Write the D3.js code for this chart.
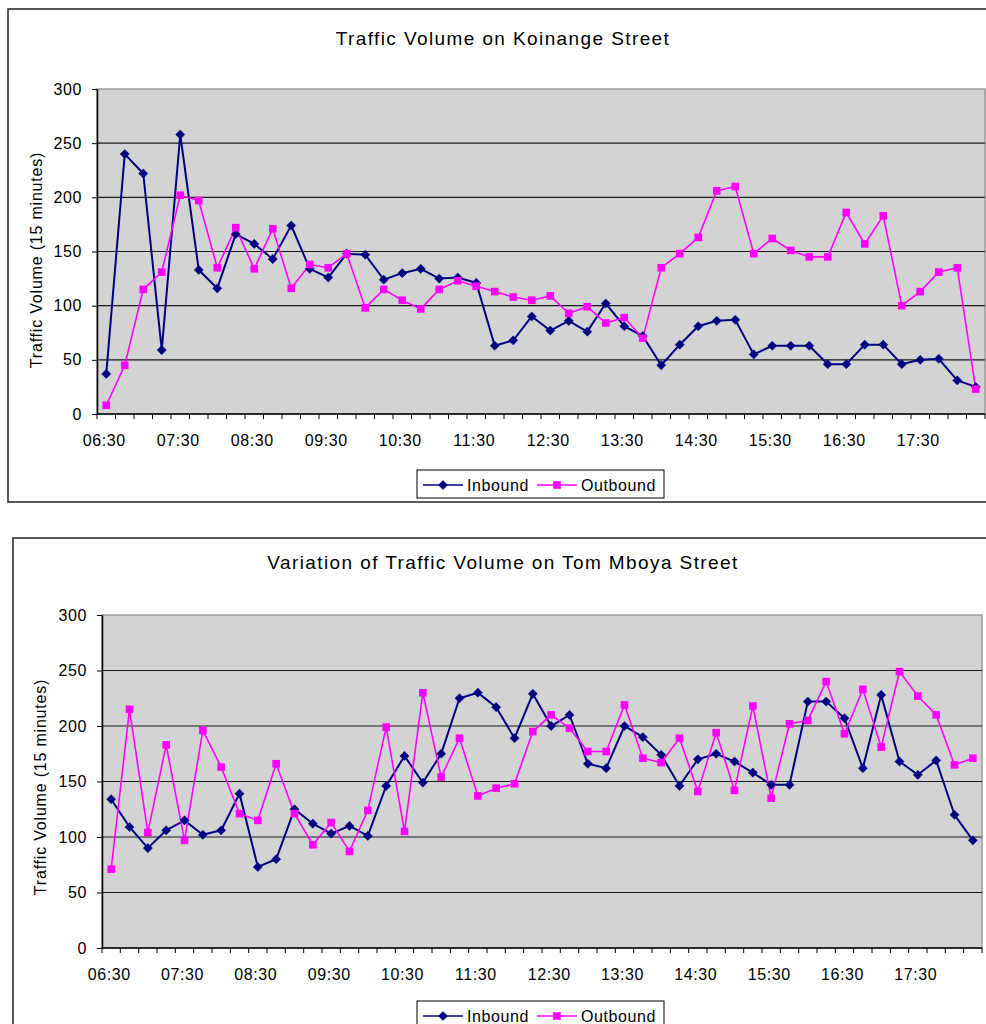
<!DOCTYPE html>
<html>
<head>
<meta charset="utf-8">
<script src="https://cdn.jsdelivr.net/npm/d3@7"></script>
<style>
  body { margin: 0; background: #fff; }
  svg text { font-family: "Liberation Sans", Arial, sans-serif; fill: #000; }
</style>
</head>
<body>
<div id="chart"></div>
<script>
(function(){

// 15-minute periods, 06:30 to 18:15
const times = ["06:30","06:45","07:00","07:15","07:30","07:45","08:00","08:15",
  "08:30","08:45","09:00","09:15","09:30","09:45","10:00","10:15",
  "10:30","10:45","11:00","11:15","11:30","11:45","12:00","12:15",
  "12:30","12:45","13:00","13:15","13:30","13:45","14:00","14:15",
  "14:30","14:45","15:00","15:15","15:30","15:45","16:00","16:15",
  "16:30","16:45","17:00","17:15","17:30","17:45","18:00","18:15"];

const xTickLabels = ["06:30","07:30","08:30","09:30","10:30","11:30",
  "12:30","13:30","14:30","15:30","16:30","17:30"];
const yTicks = [0, 50, 100, 150, 200, 250, 300];

const koinangeInbound = [37,240,222,59,258,133,116,166,157,143,174,134,126,148,147,124,
  130,134,125,126,121,63,68,90,77,86,76,102,81,72,45,64,
  81,86,87,55,63,63,63,46,46,64,64,46,50,51,31,25];
const koinangeOutbound = [8,45,115,131,202,197,135,172,134,171,116,138,135,148,98,115,
  105,97,115,123,118,113,108,105,109,93,99,84,89,70,135,148,
  163,206,210,148,162,151,145,145,186,157,183,100,113,131,135,23];

const mboyaInbound = [134,109,90,106,115,102,106,139,73,80,125,112,103,110,101,146,
  173,149,175,225,230,217,189,229,200,210,166,162,200,190,174,146,
  170,175,168,158,147,147,222,222,207,162,228,168,156,169,120,97];
const mboyaOutbound = [71,215,104,183,97,196,163,121,115,166,121,93,113,87,124,199,
  105,230,154,189,137,144,148,195,210,198,177,177,219,171,167,189,
  141,194,142,218,135,202,205,240,193,233,181,249,227,210,165,171];

const series = [
  {name: "Inbound", color: "#000080", marker: "diamond"},
  {name: "Outbound", color: "#ff00ff", marker: "square"}
];

const svg = d3.select("#chart")
  .append("svg")
  .attr("width", 986)
  .attr("height", 1024);

function drawMarker(g, type, color, cx, cy) {
  if (type === "diamond") {
    g.append("path")
      .attr("d", `M${cx},${cy-4.6}L${cx+4.6},${cy}L${cx},${cy+4.6}L${cx-4.6},${cy}Z`)
      .attr("fill", color)
      .attr("stroke", color)
      .attr("stroke-width", 0.5);
  } else {
    g.append("rect")
      .attr("x", cx - 3.8).attr("y", cy - 3.8)
      .attr("width", 7.6).attr("height", 7.6)
      .attr("fill", color);
  }
}

function drawPanel(p, title, values) {
  const g = svg.append("g");

  // outer chart border
  g.append("rect")
    .attr("x", p.box[0]).attr("y", p.box[1])
    .attr("width", p.box[2]).attr("height", p.box[3])
    .attr("fill", "#fff")
    .attr("stroke", "#222")
    .attr("stroke-width", 1.5);

  // title
  g.append("text")
    .attr("x", 503)
    .attr("y", p.titleY)
    .attr("text-anchor", "middle")
    .style("font-size", "19px")
    .style("letter-spacing", "1.4px")
    .text(title);

  const x = d3.scaleBand()
    .domain(times)
    .range([p.left, p.right])
    .paddingInner(0).paddingOuter(0);
  const cx = d => x(d) + x.bandwidth() / 2;

  const y = d3.scaleLinear()
    .domain([0, 300])
    .range([p.bottom, p.top]);

  // plot area
  g.append("rect")
    .attr("x", p.left).attr("y", p.top)
    .attr("width", p.right - p.left).attr("height", p.bottom - p.top)
    .attr("fill", "#d3d3d3")
    .attr("stroke", "#9a9a9a")
    .attr("stroke-width", 1.5);

  // gridlines
  g.append("g")
    .selectAll("line")
    .data(yTicks.filter(v => v > 0 && v < 300))
    .enter()
    .append("line")
    .attr("x1", p.left).attr("x2", p.right)
    .attr("y1", d => y(d)).attr("y2", d => y(d))
    .attr("stroke", "#1a1a1a")
    .attr("stroke-width", 1.2);

  // Y axis
  const yAxis = g.append("g")
    .attr("transform", `translate(${p.left},0)`)
    .call(d3.axisLeft(y).tickValues(yTicks).tickSize(5).tickPadding(10).tickSizeOuter(0));
  yAxis.select(".domain").attr("stroke", "#000").attr("stroke-width", 1.5);
  yAxis.selectAll(".tick line").attr("stroke", "#000");
  yAxis.selectAll("text")
    .style("font-size", "16px")
    .style("letter-spacing", "0.6px")
    .attr("font-family", null);

  // X axis: tick marks between categories, labels every hour
  const xAxis = g.append("g")
    .attr("transform", `translate(0,${p.bottom})`);
  xAxis.append("line")
    .attr("x1", p.left).attr("x2", p.right)
    .attr("stroke", "#000").attr("stroke-width", 1.5);
  xAxis.selectAll(".tk")
    .data(times)
    .enter()
    .append("line")
    .attr("class", "tk")
    .attr("x1", d => x(d)).attr("x2", d => x(d))
    .attr("y1", 0).attr("y2", 5)
    .attr("stroke", "#000");
  xAxis.append("line")
    .attr("x1", p.right).attr("x2", p.right)
    .attr("y1", 0).attr("y2", 5)
    .attr("stroke", "#000");
  xAxis.selectAll(".lbl")
    .data(xTickLabels)
    .enter()
    .append("text")
    .attr("class", "lbl")
    .attr("x", d => cx(d) - 2)
    .attr("y", 32)
    .attr("text-anchor", "middle")
    .style("font-size", "16px")
    .style("letter-spacing", "0.6px")
    .text(d => d);

  // Y axis title
  g.append("text")
    .attr("transform", `translate(${p.yLabelX},${p.yLabelY}) rotate(-90)`)
    .attr("text-anchor", "middle")
    .style("font-size", "16px")
    .style("letter-spacing", "0.8px")
    .text("Traffic Volume (15 minutes)");

  // lines and markers
  const line = d3.line()
    .x((d, i) => cx(times[i]))
    .y(d => y(d));

  series.forEach((s, k) => {
    g.append("path")
      .datum(values[k])
      .attr("fill", "none")
      .attr("stroke", s.color)
      .attr("stroke-width", k === 0 ? 2 : 1.6)
      .attr("d", line);
  });
  series.forEach((s, k) => {
    const mg = g.append("g");
    values[k].forEach((v, i) => drawMarker(mg, s.marker, s.color, cx(times[i]), y(v)));
  });

  // legend
  const legend = g.append("g")
    .attr("transform", `translate(${p.legend[0]},${p.legend[1]})`);
  legend.append("rect")
    .attr("x", 0).attr("y", 0)
    .attr("width", 247).attr("height", 28)
    .attr("fill", "#fff")
    .attr("stroke", "#000")
    .attr("stroke-width", 1);
  const offsets = [6, 120];
  series.forEach((s, k) => {
    const lg = legend.append("g").attr("transform", `translate(${offsets[k]},0)`);
    lg.append("line")
      .attr("x1", 0).attr("x2", 40)
      .attr("y1", 15).attr("y2", 15)
      .attr("stroke", s.color)
      .attr("stroke-width", 1.6);
    drawMarker(lg, s.marker, s.color, 20, 15);
    lg.append("text")
      .attr("x", 44)
      .attr("y", 21)
      .style("font-size", "16px")
      .style("letter-spacing", "0.6px")
      .text(s.name);
  });
}

drawPanel({
  box: [8, 9, 990, 493],
  titleY: 45,
  left: 97, right: 985, top: 89, bottom: 414,
  yLabelX: 42, yLabelY: 260,
  legend: [417, 470]
}, "Traffic Volume on Koinange Street", [koinangeInbound, koinangeOutbound]);

drawPanel({
  box: [13, 538, 990, 500],
  titleY: 569,
  left: 102, right: 982, top: 615, bottom: 948,
  yLabelX: 46, yLabelY: 787,
  legend: [417, 1001]
}, "Variation of Traffic Volume on Tom Mboya Street", [mboyaInbound, mboyaOutbound]);

})();
</script>
</body>
</html>
